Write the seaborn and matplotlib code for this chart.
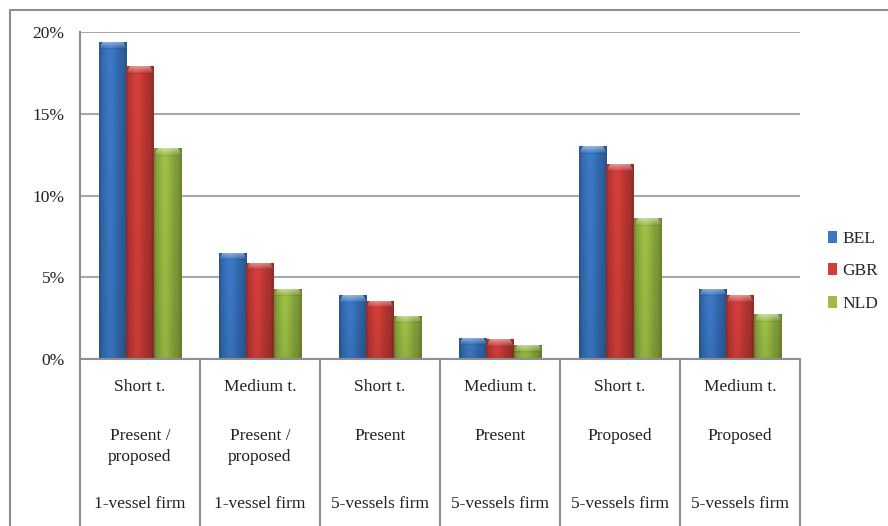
import numpy as np
import pandas as pd
import matplotlib
matplotlib.use("Agg")
import matplotlib.pyplot as plt
import seaborn as sns
from matplotlib.lines import Line2D
from matplotlib.patches import Patch
from matplotlib.ticker import PercentFormatter, FixedLocator
from matplotlib.colors import to_rgb

# Scenario labels (three header rows under each group)
term = ["Short t.", "Medium t.", "Short t.", "Medium t.", "Short t.", "Medium t."]
regime = ["Present /\nproposed", "Present /\nproposed", "Present", "Present", "Proposed", "Proposed"]
firm = ["1-vessel firm", "1-vessel firm", "5-vessels firm", "5-vessels firm",
        "5-vessels firm", "5-vessels firm"]

countries = ["BEL", "GBR", "NLD"]
bel = [0.194, 0.065, 0.039, 0.013, 0.130, 0.043]
gbr = [0.179, 0.059, 0.0355, 0.0122, 0.119, 0.039]
nld = [0.129, 0.043, 0.0265, 0.0086, 0.086, 0.0275]

y_ticks = [0.0, 0.05, 0.10, 0.15, 0.20]
colors = ["#3A78C6", "#D23E39", "#9BBE44"]

cases = [f"case{i}" for i in range(len(term))]
df = pd.DataFrame({
    "case": cases * 3,
    "country": np.repeat(countries, len(cases)),
    "share": bel + gbr + nld,
})

sns.set_theme(style="white")
plt.rcParams["font.family"] = ["Liberation Serif", "DejaVu Serif"]

W, H, DPI = 888, 526, 100
fig = plt.figure(figsize=(W / DPI, H / DPI), dpi=DPI)
ax_l, ax_r, ax_t, ax_b = 80, 800, 32, 359
ax = fig.add_axes([ax_l / W, 1 - ax_b / H, (ax_r - ax_l) / W, (ax_b - ax_t) / H])

sns.barplot(data=df, x="case", y="share", hue="country", order=cases,
            hue_order=countries, palette=colors, width=0.69, gap=0,
            saturation=1, legend=False, linewidth=0, ax=ax)

ax.set_xlim(-0.5, len(cases) - 0.5)
ax.set_ylim(0, 0.20)
ax.set_xlabel("")
ax.set_ylabel("")
ax.set_xticks([])
ax.yaxis.set_major_locator(FixedLocator(y_ticks))
ax.yaxis.set_major_formatter(PercentFormatter(1.0, decimals=0))
ax.tick_params(axis="y", length=0, pad=11, labelsize=12.5, labelcolor="#222222")
ax.yaxis.grid(True, color="#A8A8A8", linewidth=1.5)
ax.set_axisbelow(True)
for side in ["top", "right"]:
    ax.spines[side].set_visible(False)
for side in ["left", "bottom"]:
    ax.spines[side].set_color("#8E8E8E")
    ax.spines[side].set_linewidth(1.5)


def bevel_image(base, wpx, hpx, cap):
    """Shaded RGB image for one bar: rounded side shading plus a lit top cap."""
    xs = np.linspace(0, 1, wpx)
    hprof = 0.80 + 0.22 * np.exp(-((xs - 0.40) / 0.28) ** 2)
    hprof -= 0.10 * np.clip((xs - 0.85) / 0.15, 0, 1)
    hprof -= 0.10 * np.clip((0.08 - xs) / 0.08, 0, 1)
    ys = np.linspace(0, 1, hpx)  # 0 = top
    vprof = 1.0 - 0.08 * ys
    img = base[None, None, :] * hprof[None, :, None] * vprof[:, None, None]
    for r in range(cap):
        t = 1 - r / cap
        inset = (cap - r) / cap * 0.12
        mask = (xs > inset) & (xs < 1 - inset)
        img[r, mask] = img[r, mask] * (1 - 0.45 * t) + 0.45 * t
    img[cap:cap + 1] *= 0.92
    return np.clip(img, 0, 1)


# Bevelled shading on each bar
fig.canvas.draw()
bars = [p for p in ax.patches if p.get_height() > 0]
for patch in bars:
    x0, w, h = patch.get_x(), patch.get_width(), patch.get_height()
    base = np.array(to_rgb(patch.get_facecolor()))
    p0 = ax.transData.transform((x0, 0))
    p1 = ax.transData.transform((x0 + w, h))
    wpx = max(int(round(abs(p1[0] - p0[0]))), 2)
    hpx = max(int(round(abs(p1[1] - p0[1]))), 2)
    cap = min(7, max(hpx // 2, 1))
    img = bevel_image(base, wpx, hpx, cap)
    im = ax.imshow(img, extent=(x0, x0 + w, 0, h), aspect="auto", origin="upper",
                   interpolation="nearest", zorder=patch.get_zorder() + 0.1)
    im.set_clip_path(patch)

ax.set_xlim(-0.5, len(cases) - 0.5)
ax.set_ylim(0, 0.20)


def yfrac(px):
    return -(px - ax_b) / (ax_b - ax_t) * 0.20


# Category table beneath the bars
line_kw = dict(color="#8E8E8E", linewidth=1.5)
for b in np.arange(-0.5, len(cases), 1.0):
    ax.plot([b, b], [0, yfrac(H)], clip_on=False, **line_kw)

txt_kw = dict(ha="center", fontsize=12.5, color="#222222", clip_on=False)
for i in range(len(cases)):
    ax.text(i, yfrac(387), term[i], va="center", **txt_kw)
    ax.text(i, yfrac(428), regime[i], va="top", linespacing=1.45, **txt_kw)
    ax.text(i, yfrac(504), firm[i], va="center", **txt_kw)

# Legend
handles = [Patch(facecolor=c, edgecolor="none") for c in colors]
ax.legend(handles, countries, loc="center left", bbox_to_anchor=(1.029, 0.268),
          frameon=False, fontsize=12.5, handlelength=0.55, handleheight=0.65,
          handletextpad=0.3, labelspacing=0.95, borderaxespad=0)

# Outer chart frame
fig.add_artist(Line2D([10 / W, 10 / W], [0, 1 - 10 / H], transform=fig.transFigure,
                      color="#8E8E8E", linewidth=1.5))
fig.add_artist(Line2D([10 / W, 1], [1 - 10 / H, 1 - 10 / H], transform=fig.transFigure,
                      color="#8E8E8E", linewidth=1.5))

fig.savefig("out.png", dpi=DPI)
